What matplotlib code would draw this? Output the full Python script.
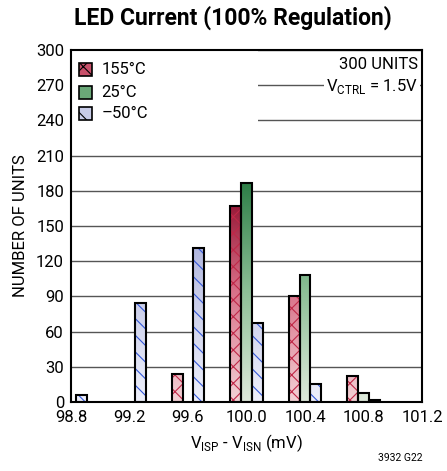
import numpy as np
import matplotlib
matplotlib.use("Agg")
import matplotlib.pyplot as plt
from matplotlib.colors import LinearSegmentedColormap
from matplotlib.patches import Rectangle

plt.rcParams['font.family'] = ['Roboto', 'DejaVu Sans']
plt.rcParams['mathtext.fontset'] = 'custom'
plt.rcParams['mathtext.rm'] = 'Roboto'
plt.rcParams['hatch.linewidth'] = 0.8

bins = [98.8, 99.2, 99.6, 100.0, 100.4, 100.8]
red_155 = [0, 0, 24, 167, 90, 22]
green_25 = [0, 0, 0, 187, 108, 8]
blue_m50 = [6, 84, 131, 67, 15, 2]
series_labels = ['155°C', '25°C', '–50°C']
xticks = [98.8, 99.2, 99.6, 100.0, 100.4, 100.8, 101.2]
yticks = list(range(0, 301, 30))

fig = plt.figure(figsize=(4.47, 4.71), dpi=100)
ax = fig.add_axes([71/447, 69/471, 351/447, 352/471])

w = 0.0735
cmaps = [
    LinearSegmentedColormap.from_list('r', ['#f3d2d6', '#d87088', '#850020']),
    LinearSegmentedColormap.from_list('g', ['#dfeadc', '#8cbf96', '#2a7c44']),
    LinearSegmentedColormap.from_list('b', ['#eef0fb', '#c6cae8', '#8d96cd']),
]
hatches = ['xx', None, '\\\\']
hatch_cols = ['#c02848', None, '#3458d8']
grad = np.linspace(0, 1, 256).reshape(-1, 1)
for i, vals in enumerate([red_155, green_25, blue_m50]):
    offs = (i - 1) * w
    for b, v in zip(bins, vals):
        if v <= 0:
            continue
        x0 = b + offs - w / 2
        bar = ax.bar(b + offs, v, width=w, color='none', edgecolor='none', zorder=2)[0]
        im = ax.imshow(grad, cmap=cmaps[i], origin='lower', aspect='auto',
                       extent=[x0, x0 + w, 0, 190], zorder=2)
        im.set_clip_path(bar)
        if hatches[i]:
            ax.bar(b + offs, v, width=w, color='none', edgecolor=hatch_cols[i],
                   hatch=hatches[i], linewidth=0, zorder=3)
        ax.bar(b + offs, v, width=w, color='none', edgecolor='black',
               linewidth=1.5, zorder=4)

ax.set_xlim(98.8, 101.2)
ax.set_ylim(0, 300)
ax.set_xticks(xticks)
ax.set_xticklabels([f'{t:.1f}' for t in xticks])
ax.set_yticks(yticks)
ax.tick_params(length=0, labelsize=12)
ax.tick_params(axis='x', pad=6)
ax.tick_params(axis='y', pad=5)
ax.yaxis.grid(True, color='#555555', linewidth=1.0, zorder=0)
ax.set_axisbelow(True)
for s in ax.spines.values():
    s.set_linewidth(1.5)

# legend
ax.add_patch(Rectangle((98.81, 225), 1.27, 74, facecolor='white', edgecolor='none', zorder=1.5))
leg_y = [283, 264, 246]
leg_face = ['#c8506a', '#6aa878', '#c8cce8']
leg_hatch = ['xx', None, '\\']
for i in range(3):
    ax.add_patch(Rectangle((98.855, leg_y[i] - 5.5), 0.088, 11, facecolor=leg_face[i],
                           edgecolor='black', linewidth=1.2, zorder=5,
                           hatch=leg_hatch[i]))
    ax.text(99.01, leg_y[i], series_labels[i], fontsize=12, va='center', ha='left', zorder=5)

ax.text(101.175, 288, '300 UNITS', ha='right', va='center', fontsize=12, zorder=5,
        bbox=dict(facecolor='white', edgecolor='none', pad=1))
ax.text(101.175, 269, r'V$_{\mathregular{CTRL}}$ = 1.5V', ha='right', va='center', fontsize=12, zorder=5,
        bbox=dict(facecolor='white', edgecolor='none', pad=1.5))

ax.set_ylabel('NUMBER OF UNITS', fontsize=12, labelpad=6)
ax.set_xlabel(r'V$_{\mathregular{ISP}}$ - V$_{\mathregular{ISN}}$ (mV)', fontsize=12, labelpad=5)
fig.text(233/447, 1 - 18/471, 'LED Current (100% Regulation)', ha='center', va='center',
         fontsize=16.5, fontweight='bold')
fig.text(422/447, 1 - 458/471, '3932 G22', ha='right', va='center', fontsize=7.5)

fig.savefig('out.png', dpi=100)
